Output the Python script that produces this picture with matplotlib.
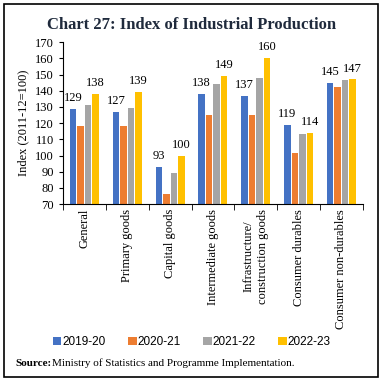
import matplotlib.pyplot as plt
import numpy as np
from matplotlib.patches import Rectangle

plt.rcParams['font.family'] = 'Liberation Serif'

categories = ['General', 'Primary goods', 'Capital goods', 'Intermediate goods',
              'Infrastructure/\nconstruction goods', 'Consumer durables', 'Consumer non-durables']
years = ['2019-20', '2020-21', '2021-22', '2022-23']
v1920 = [129, 127, 93, 138, 137, 119, 145]
v2021 = [118, 118, 76, 125, 125, 101.5, 142]
v2122 = [131.5, 129.5, 89, 144, 148, 113.5, 146.5]
v2223 = [138, 139, 100, 149, 160, 114, 147]
colors = ['#4472C4', '#ED7D31', '#A5A5A5', '#FFC000']

fig = plt.figure(figsize=(3.84, 3.83), dpi=100)
ax = fig.add_axes([0.164, 0.467, 0.781, 0.423])

x = np.arange(len(categories))
w = 0.15
step = 0.175
series = [v1920, v2021, v2122, v2223]
for i, (vals, c, lab) in enumerate(zip(series, colors, years)):
    pos = x + (i - 1.5) * step
    ax.bar(pos, np.array(vals) - 70, w, bottom=70, color=c, label=lab)
    if i in (0, 3):
        for p, v in zip(pos, vals):
            ax.text(p, v + 3, '%d' % round(v), ha='center', va='bottom', fontsize=9)

ax.set_ylim(70, 170)
ax.set_xlim(-0.5, len(categories) - 0.5)
ax.set_yticks(range(70, 171, 10))
ax.set_xticks(x)
ax.set_xticklabels(categories, rotation=90, fontsize=9)
ax.tick_params(axis='x', length=0)
ax.set_xticks(np.arange(-0.5, len(categories)), minor=True)
ax.tick_params(axis='x', which='minor', length=4)
ax.tick_params(axis='y', labelsize=9, length=3)
ax.spines['top'].set_visible(False)
ax.spines['right'].set_visible(False)
ax.set_ylabel('Index (2011-12=100)', fontsize=9)

fig.text(0.5, 0.935, 'Chart 27: Index of Industrial Production', ha='center', va='center',
         fontsize=12, fontweight='bold', color='#1f2a3c')

fig.legend(loc='center', bbox_to_anchor=(0.5, 0.107), ncol=4, frameon=False,
           prop={'family': 'Liberation Sans', 'size': 8.5},
           handlelength=0.7, handleheight=0.7, handletextpad=0.1, columnspacing=1.9)

fig.text(0.04, 0.052, 'Source:', fontsize=8, fontweight='bold', va='center')
fig.text(0.135, 0.052, 'Ministry of Statistics and Programme Implementation.', fontsize=8, va='center')

fig.patches.append(Rectangle((0.01, 0.015), 0.975, 0.975, transform=fig.transFigure,
                             fill=False, edgecolor='black', linewidth=1.2))

fig.savefig('out.png', dpi=100)
